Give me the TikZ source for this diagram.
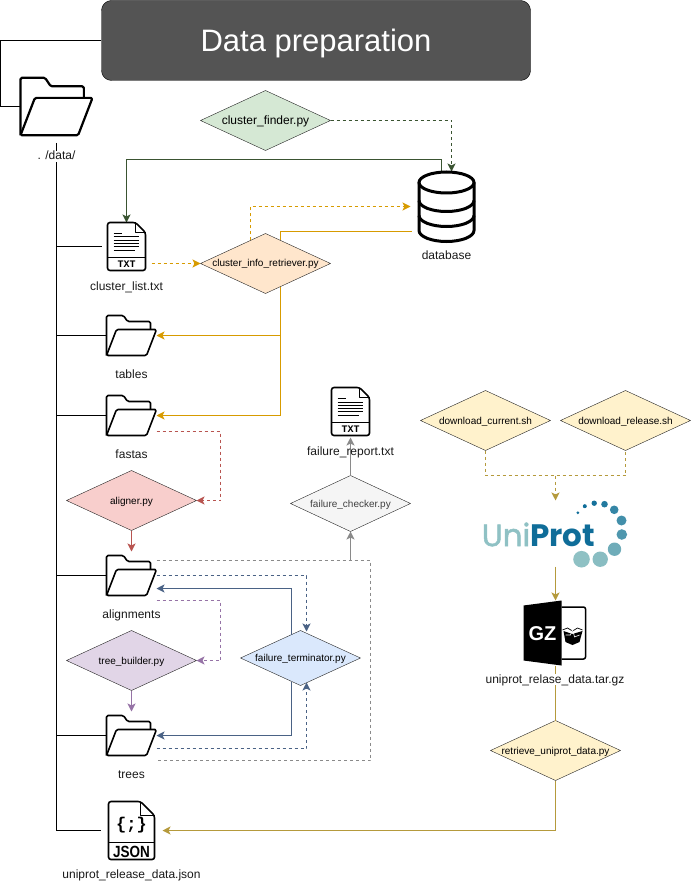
\documentclass[tikz,border=0pt]{standalone}
\usepackage{fontspec}
\setmainfont{Liberation Sans}
\setmonofont{Liberation Mono}
\newfontfamily\logofont{Poppins}
\newfontfamily\logouni[FakeBold=1.6]{Poppins}
\usetikzlibrary{arrows.meta,shapes.geometric}
\definecolor{darkgreen}{HTML}{3A5431}
\definecolor{amber}{HTML}{D79B00}
\definecolor{brick}{HTML}{B85450}
\definecolor{plum}{HTML}{9673A6}
\definecolor{slate}{HTML}{4A6285}
\definecolor{ash}{HTML}{8A8A8A}
\definecolor{gold}{HTML}{B59A3C}
\definecolor{unilight}{HTML}{8FC1C4}
\definecolor{unidark}{HTML}{0F6D99}
\definecolor{finderfill}{HTML}{D5E8D4}
\definecolor{infofill}{HTML}{FFE6CC}
\definecolor{alignfill}{HTML}{F8CECC}
\definecolor{treefill}{HTML}{E1D5E7}
\definecolor{termfill}{HTML}{DAE8FC}
\definecolor{checkfill}{HTML}{F5F5F5}
\definecolor{dlfill}{HTML}{FFF2CC}
\newcommand{\fsize}[1]{\fontsize{#1}{#1}\selectfont}
\tikzset{
  proc/.style={diamond,draw=black!85,fill=#1,aspect=2.17,inner sep=0pt,outer sep=0pt,
    minimum width=130pt,minimum height=60pt,font=\fsize{10},text height=8pt,text depth=1pt},
  iconbox/.style={minimum width=#1,inner sep=0pt,outer sep=0pt},
  lbl/.style={font=\fsize{12},text=black!90,inner sep=1pt,text height=8pt,text depth=1pt},
  link/.style={line width=1pt},
  dashline/.style={link,dash pattern=on 3pt off 3pt},
  tipped/.style={-{Stealth[length=8pt,width=8pt,inset=2pt]}},
  folderpic/.pic={
    \draw[fill=white,line width=#1,rounded corners=1.5pt,line join=round]
      (-25,20) -- (-25,-20) -- (-8,-20) -- (-4,-14) -- (19,-14) -- (19,-4);
    \draw[fill=white,line width=#1,rounded corners=1.5pt,line join=round]
      (-25,20) -- (-15,-6) -- (25,-6) -- (15,20) -- cycle;
  },
  txtpic/.pic={
    \draw[line width=1.6pt,rounded corners=2.5pt,line join=round]
      (-19,-24) -- (9,-24) -- (19,-14) -- (19,24) -- (-19,24) -- cycle;
    \draw[line width=1.2pt,line join=round] (9,-24) -- (9,-14) -- (19,-14);
    \draw[line width=1.2pt] (-19,11) -- (19,11);
    \draw[line width=1pt] (-13,-12.7) -- (-4.5,-12.7);
    \foreach \y in {-9.5,-6.3,-3,.3} \draw[line width=1pt] (-13,\y) -- (12.5,\y);
    \draw[line width=1pt] (-13,3.7) -- (8,3.7);
    \node[inner sep=0pt,font=\ttfamily\bfseries\fsize{10}] (tag) at (0,17.5) {TXT};
  },
  jsonpic/.pic={
    \draw[line width=1.6pt,rounded corners=2.5pt,line join=round]
      (-23,-29) -- (9,-29) -- (23,-15) -- (23,29) -- (-23,29) -- cycle;
    \draw[line width=1.2pt,line join=round] (9,-29) -- (9,-15) -- (23,-15);
    \draw[line width=1.2pt] (-23,12) -- (23,12);
    \node[inner sep=0pt,font=\ttfamily\bfseries\fsize{17}] (body) at (0,-5) {\{;\}};
    \node[inner sep=0pt,yscale=1.2,font=\bfseries\fsize{13.5}] (tag) at (0,21) {JSON};
  },
  gzpic/.pic={
    \draw[line width=1.5pt,rounded corners=2pt] (6,-26) -- (30,-26) -- (30,26) -- (6,26);
    \fill (-32,-27.5) -- (6,-32.5) -- (6,32.5) -- (-32,27.5) -- cycle;
    \node[inner sep=0pt,text=white,font=\bfseries\fsize{20}] (tag) at (-13,.5) {GZ};
    \fill (8,-2) -- (17,1) -- (27,-2) -- (24,9) -- (17,12) -- (10,9) -- cycle;
    \draw[line width=.7pt] (7,-3) -- (12,-5) -- (17,-2) -- (22,-5) -- (27,-3);
    \draw[white,line width=.6pt] (10,2) -- (15,2) -- (17,-4) -- (19,4) -- (24,2);
  },
  dbpic/.pic={
    \draw[line width=3pt] (-27.5,-24) -- (-27.5,24)
      arc[start angle=180,end angle=0,x radius=27.5,y radius=11] -- (27.5,-24);
    \draw[line width=3pt] (0,-24) ellipse[x radius=27.5,y radius=10.5];
    \foreach \y in {-6,9}
      \draw[line width=3pt] (-27.5,\y) arc[start angle=180,end angle=0,x radius=27.5,y radius=11];
  }
}
\begin{document}
\begin{tikzpicture}[x=1pt,y=-1pt]
  \useasboundingbox (-.5,-.5) rectangle (690.5,881.5);

  \node (title) at (315.5,40) [draw=black,fill=black!67,rounded corners=10pt,minimum width=429pt,
    minimum height=80pt,inner sep=0pt,text=white,font=\fsize{31},text height=23pt,text depth=0pt] {Data preparation};

  \node (datadir) at (56,106) [iconbox=72pt,minimum height=57pt] {};
  \node (clusterlist) at (126,246) [iconbox=50pt,minimum height=48pt] {};
  \node (tables) at (131,335) [iconbox=50pt,minimum height=40pt] {};
  \node (fastas) at (131,415) [iconbox=50pt,minimum height=40pt] {};
  \node (alignments) at (131,575) [iconbox=50pt,minimum height=40pt] {};
  \node (trees) at (131,735) [iconbox=50pt,minimum height=40pt] {};
  \node (jsonfile) at (131,830) [iconbox=62pt,minimum height=58pt] {};
  \node (database) at (446,206) [iconbox=58pt,minimum height=70pt] {};
  \node (failreport) at (350,411) [iconbox=38pt,minimum height=48pt] {};
  \node (uniprot) at (555,533) [iconbox=145pt,minimum height=66pt] {};
  \node (gzfile) at (555,632.5) [iconbox=62pt,minimum height=65pt] {};

  \node (clusterfinder) at (265,120) [proc=finderfill,font=\fsize{12},text height=9pt,text depth=0pt] {cluster\_finder.py};
  \node (inforetriever) at (265,263) [proc=infofill] {cluster\_info\_retriever.py};
  \node (aligner) at (131,500) [proc=alignfill] {aligner.py};
  \node (treebuilder) at (131,660) [proc=treefill] {tree\_builder.py};
  \node (terminator) at (300,657.5) [proc=termfill,minimum width=120pt,minimum height=55pt] {failure\_terminator.py};
  \node (checker) at (350,503) [proc=checkfill,minimum width=120pt,minimum height=56pt,text=black!75] {failure\_checker.py};
  \node (dlcurrent) at (485,420) [proc=dlfill] {download\_current.sh};
  \node (dlrelease) at (625,420) [proc=dlfill] {download\_release.sh};
  \node (retrieve) at (555,750) [proc=dlfill] {retrieve\_uniprot\_data.py};

  \coordinate (grayjoin) at (350,560);
  \coordinate (dljoin) at (555,475);

  \draw[link] (title.west) -- ++(-101,0) |- (datadir.west);
  \draw[link] ([yshift=-8]datadir.south) |- (jsonfile.west);
  \foreach \to in {clusterlist,tables,fastas,alignments,trees}
    \draw[link] (datadir.south |- \to.west) -- (\to.west);

  \draw[dashline,darkgreen,tipped] (clusterfinder.east) -| ([xshift=5]database.north);
  \draw[link,darkgreen,tipped] ([xshift=-5]database.north) -- ++(0,-12) -| (clusterlist.north);

  \draw[dashline,amber,tipped] ([yshift=-17]clusterlist.east) -- (inforetriever.west);
  \draw[dashline,amber,tipped] ([xshift=-15,yshift=-7]inforetriever.north) |- ([xshift=-7]database.west);
  \draw[link,amber] ([xshift=-6,yshift=-25]database.west) -| ([xshift=15,yshift=-7]inforetriever.north);
  \foreach \to in {tables,fastas}
    \draw[link,amber,tipped] ([xshift=15,yshift=7]inforetriever.south) |- (\to.east);

  \draw[dashline,brick,tipped] ([yshift=-16]fastas.east) -- ++(64,0) |- (aligner.east);
  \draw[link,brick,tipped,shorten >=4pt] (aligner.south) -- (alignments.north);
  \draw[dashline,plum,tipped] ([yshift=-25]alignments.east) -- ++(64,0) |- (treebuilder.east);
  \draw[link,plum,tipped,shorten >=4pt] (treebuilder.south) -- (trees.north);

  \draw[link,slate,tipped] ([xshift=-9,yshift=-4]terminator.north) |- ([yshift=-13]alignments.east);
  \draw[link,slate,tipped] ([xshift=-9,yshift=4]terminator.south) |- (trees.east);
  \draw[dashline,slate,tipped] (alignments.east) -| ([xshift=6,yshift=-1]terminator.north);
  \draw[dashline,slate,tipped] ([yshift=-13]trees.east) -| ([xshift=6,yshift=3]terminator.south);

  \draw[dashline,ash] ([yshift=15]alignments.east) -- ++(214,0) |- ([yshift=-25]trees.east);
  \draw[link,ash,tipped] (grayjoin) -- (checker.south);
  \draw[link,ash,tipped,shorten >=2pt] (checker.north) -- (failreport.south);

  \draw[dashline,gold] (dlcurrent.south) |- (dljoin) -| (dlrelease.south);
  \draw[dashline,gold,tipped] (dljoin) -- (uniprot.north);
  \draw[link,gold,tipped] (uniprot.south) -- (gzfile.north);
  \draw[link,gold] (gzfile.south) -- (retrieve.north);
  \draw[link,gold,tipped] (retrieve.south) |- (jsonfile.east);

  \pic at (datadir.center) [scale=1.44] {folderpic=2.2pt};
  \foreach \at in {tables,fastas,alignments,trees}
    \pic at (\at.center) {folderpic=1.6pt};
  \pic (listicon) at (clusterlist.center) {txtpic};
  \pic (reporticon) at (failreport.center) {txtpic};
  \pic (jsonicon) at (jsonfile.center) {jsonpic};
  \pic (gzicon) at (gzfile.center) {gzpic};
  \pic at (database.center) {dbpic};

  \node (logotext) at (538,534) [inner sep=0pt,font=\fsize{31}] {\textcolor{unilight}{\logouni Uni}\textcolor{unidark}{\logofont\bfseries Prot}};
  \foreach \x/\y/\r/\mix in {577.3/512.3/1.5/100,584.3/505.7/2/100,593.7/502.7/2.7/95,604/503.7/3.3/85,
    613.7/509.3/4.3/70,621/520/5/60,621.3/534/5.3/50,614/548.7/6.7/25,599.7/558.7/7.7/5,581/558.7/8.3/0}
    \fill[unidark!\mix!unilight] (\x,\y) circle[radius=\r];

  \node (datalabel) at (56,156) [lbl,fill=white] {. /data/};
  \node (listlabel) at (126,286) [lbl] {cluster\_list.txt};
  \node (tableslabel) at (131,374) [lbl] {tables};
  \node (fastaslabel) at (131,454) [lbl] {fastas};
  \node (alignlabel) at (131,614) [lbl] {alignments};
  \node (treeslabel) at (131,774) [lbl] {trees};
  \node (jsonlabel) at (131,874) [lbl] {uniprot\_release\_data.json};
  \node (dblabel) at (446,256) [lbl] {database};
  \node (reportlabel) at (350,451) [lbl] {failure\_report.txt};
  \node (gzlabel) at (554.5,679) [lbl,fill=white] {uniprot\_relase\_data.tar.gz};
\end{tikzpicture}
\end{document}
